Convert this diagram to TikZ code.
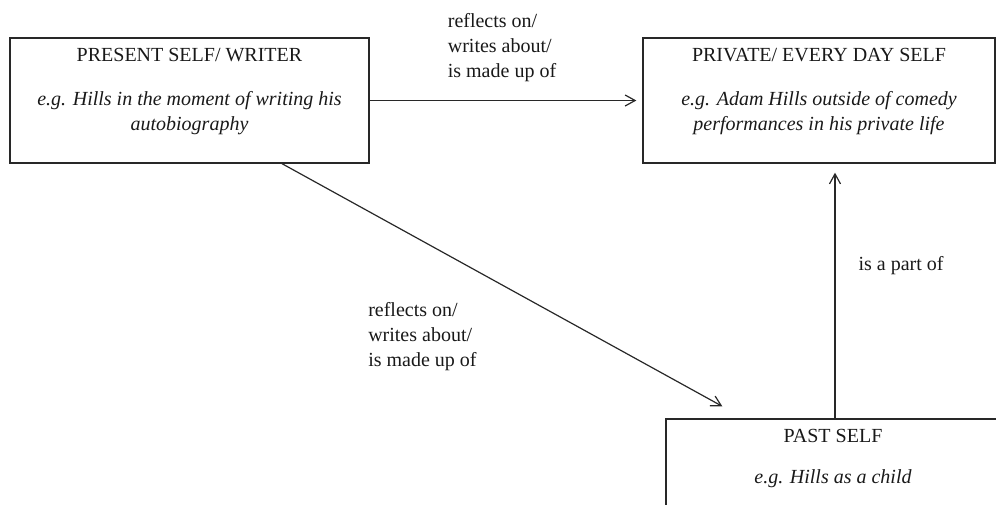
\documentclass[tikz,border=0pt]{standalone}
\usepackage{fontspec}
\setmainfont{Liberation Serif}
\usepackage{tikz}
\usetikzlibrary{arrows.meta,positioning}
\usepackage{xcolor}
\definecolor{inkgrey}{RGB}{40,40,40}
\definecolor{txtgrey}{RGB}{25,25,25}

\begin{document}
\begin{tikzpicture}[x=1pt, y=-1pt,
    selfbox/.style={rectangle, draw=inkgrey, line width=1.3pt, minimum height=125pt, inner sep=0pt},
    boxtxt/.style={align=center, inner sep=0pt, text=txtgrey, font=\fontsize{20}{25}\selectfont},
    lbl/.style={align=left, inner sep=0pt, text=txtgrey, font=\fontsize{20}{25}\selectfont},
    arr/.style={-{Straight Barb[length=10pt, width=11pt]}, line width=1.2pt, inkgrey}
]
\path[use as bounding box, clip] (0,0) rectangle (996,504);
% the three selves
\node[selfbox, minimum width=359pt] (present) at (189.5,100.5) {};
\node[selfbox, minimum width=352pt] (private) at (819,100.5) {};
\node[selfbox, minimum width=334pt] (past) at (833,481.5) {};
\node[boxtxt, below=11pt of present.north] (presentTxt)
      {PRESENT SELF/ WRITER\\[18.5pt]\textit{e.g. Hills in the moment of writing his}\\\textit{autobiography}};
\node[boxtxt, below=11pt of private.north] (privateTxt)
      {PRIVATE/ EVERY DAY SELF\\[18.5pt]\textit{e.g. Adam Hills outside of comedy}\\\textit{performances in his private life}};
\node[boxtxt, below=11pt of past.north] (pastTxt)
      {PAST SELF\\[15.5pt]\textit{e.g. Hills as a child}};
% links
\draw[arr, shorten >=6pt] (present.east) -- node[lbl, above=18pt, xshift=-4pt] (lblTop)
      {reflects on/\\writes about/\\is made up of} (private.west);
\draw[arr] ([xshift=92.5pt]present.south) -- node[lbl, pos=0.5, below left=17pt and 25pt] (lblDiag)
      {reflects on/\\writes about/\\is made up of} ([xshift=57pt, yshift=12pt]past.north west);
\draw[arr, shorten >=9pt] ([xshift=2pt]past.north) -- node[lbl, pos=0.6, right=23pt] (lblPart)
      {is a part of} ([xshift=2pt]past.north |- private.south);
\end{tikzpicture}
\end{document}
